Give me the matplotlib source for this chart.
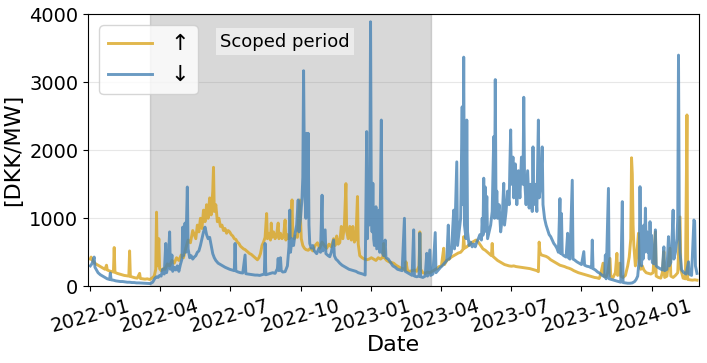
import numpy as np
import pandas as pd
import matplotlib
matplotlib.use('Agg')
import matplotlib.pyplot as plt
import matplotlib.dates as mdates

start = pd.Timestamp('2022-01-01')

# up-regulation price, (days since 2022-01-01, DKK/MW)
up_days = [0, 1, 3, 5, 7, 10, 13, 16, 19, 21, 22, 25, 28, 30, 31, 32, 35, 38, 41, 44, 47, 50, 51, 52, 55, 58, 61, 64, 65, 68, 71, 74, 77, 80, 83, 85, 86, 87, 89, 90, 92, 95, 97, 100, 103, 106, 109, 112, 115, 118, 121, 124, 127, 130, 133, 135, 137, 139, 141, 143, 145, 147, 149, 151, 153, 155, 157, 159, 160, 161, 163, 165, 167, 169, 171, 173, 175, 177, 179, 181, 183, 185, 187, 189, 191, 193, 195, 197, 199, 201, 203, 205, 207, 209, 211, 213, 215, 217, 219, 221, 223, 225, 227, 229, 230, 232, 234, 235, 236, 238, 240, 242, 244, 245, 247, 249, 251, 253, 254, 256, 258, 260, 262, 263, 265, 267, 269, 272, 274, 276, 278, 280, 283, 286, 289, 292, 295, 298, 301, 304, 307, 310, 313, 316, 318, 320, 322, 324, 326, 328, 330, 332, 333, 335, 337, 339, 341, 343, 345, 347, 348, 350, 353, 356, 359, 362, 365, 368, 371, 374, 377, 380, 381, 382, 385, 388, 391, 394, 397, 400, 403, 406, 409, 410, 412, 415, 418, 421, 424, 427, 428, 429, 432, 435, 438, 441, 444, 447, 450, 453, 456, 459, 460, 463, 466, 469, 472, 475, 478, 481, 484, 485, 486, 489, 492, 495, 498, 501, 504, 507, 510, 513, 516, 519, 521, 522, 523, 526, 529, 532, 535, 538, 541, 544, 547, 550, 553, 556, 559, 562, 565, 568, 571, 574, 577, 580, 582, 583, 584, 586, 589, 592, 595, 598, 601, 604, 607, 610, 613, 616, 619, 622, 625, 628, 631, 634, 637, 640, 643, 646, 649, 652, 655, 658, 661, 663, 666, 667, 670, 672, 675, 676, 679, 682, 684, 685, 688, 689, 692, 695, 698, 700, 702, 703, 704, 705, 706, 708, 710, 712, 713, 715, 717, 719, 722, 725, 728, 731, 734, 735, 738, 741, 743, 745, 746, 749, 753, 754, 757, 760, 763, 766, 767, 770, 773, 775, 776, 779, 782, 785, 788]
up_vals = [400, 430, 380, 350, 330, 310, 290, 270, 250, 310, 240, 225, 215, 210, 570, 205, 190, 180, 170, 160, 155, 150, 520, 145, 135, 125, 120, 190, 115, 110, 105, 110, 100, 120, 150, 250, 1090, 300, 700, 260, 230, 260, 250, 330, 300, 380, 340, 420, 380, 460, 420, 560, 680, 640, 820, 760, 700, 900, 800, 1000, 850, 1120, 950, 1200, 1000, 1300, 1050, 1400, 1750, 1100, 1200, 950, 1000, 880, 900, 820, 850, 780, 820, 800, 760, 740, 700, 690, 650, 630, 590, 570, 550, 540, 520, 500, 480, 470, 450, 430, 410, 390, 420, 480, 600, 650, 720, 1070, 700, 780, 680, 930, 720, 800, 700, 760, 930, 700, 780, 700, 740, 975, 680, 760, 700, 720, 1270, 760, 700, 740, 720, 1270, 700, 600, 560, 540, 530, 560, 520, 600, 640, 560, 650, 600, 560, 620, 580, 700, 600, 740, 620, 640, 880, 700, 900, 1510, 800, 700, 880, 680, 880, 650, 700, 1320, 620, 450, 420, 400, 390, 400, 420, 400, 380, 420, 400, 430, 630, 420, 380, 360, 350, 340, 310, 290, 270, 260, 240, 360, 230, 220, 230, 240, 220, 300, 800, 250, 200, 190, 210, 200, 220, 240, 260, 290, 300, 560, 320, 380, 400, 430, 450, 470, 490, 500, 540, 730, 560, 580, 610, 640, 660, 680, 650, 600, 550, 530, 500, 470, 450, 630, 440, 410, 380, 360, 340, 320, 310, 300, 295, 300, 290, 285, 280, 275, 270, 265, 260, 250, 240, 230, 215, 650, 500, 460, 450, 440, 420, 390, 370, 350, 330, 310, 300, 290, 275, 265, 250, 230, 215, 200, 190, 180, 170, 160, 150, 140, 130, 125, 115, 180, 340, 150, 140, 200, 410, 150, 130, 200, 485, 160, 340, 150, 130, 160, 300, 430, 700, 1890, 1650, 900, 600, 300, 500, 780, 350, 250, 300, 240, 200, 190, 180, 200, 800, 150, 130, 120, 200, 510, 130, 150, 560, 150, 130, 160, 200, 1020, 250, 120, 110, 2520, 100, 95, 90, 95, 90]

# down-regulation price, (days since 2022-01-01, DKK/MW)
down_days = [0, 2, 5, 6, 8, 10, 13, 16, 19, 22, 25, 26, 27, 30, 33, 36, 39, 42, 45, 48, 51, 54, 57, 60, 63, 66, 69, 72, 75, 78, 81, 84, 86, 88, 90, 92, 94, 96, 98, 99, 101, 103, 104, 106, 107, 109, 111, 113, 115, 117, 119, 120, 121, 123, 124, 126, 127, 129, 131, 133, 135, 137, 139, 141, 143, 145, 147, 149, 151, 153, 155, 157, 159, 161, 163, 166, 169, 172, 175, 178, 181, 184, 187, 188, 189, 192, 195, 198, 201, 202, 205, 208, 211, 214, 217, 220, 223, 226, 227, 228, 231, 234, 237, 240, 243, 244, 245, 247, 248, 250, 253, 256, 258, 259, 260, 262, 264, 266, 268, 270, 271, 273, 275, 276, 277, 278, 279, 280, 281, 282, 283, 284, 285, 287, 289, 291, 294, 297, 299, 301, 302, 305, 306, 309, 311, 313, 316, 317, 319, 321, 324, 327, 330, 333, 336, 339, 342, 345, 348, 351, 354, 357, 359, 360, 361, 362, 363, 364, 365, 366, 367, 368, 369, 371, 372, 375, 376, 378, 379, 381, 383, 384, 387, 390, 393, 396, 399, 402, 405, 408, 409, 412, 415, 418, 420, 421, 424, 427, 428, 429, 432, 435, 437, 438, 441, 442, 445, 448, 449, 452, 455, 457, 460, 463, 465, 466, 469, 472, 473, 476, 477, 479, 481, 483, 484, 485, 486, 488, 489, 490, 492, 494, 496, 498, 500, 502, 504, 506, 508, 509, 510, 511, 512, 513, 514, 515, 516, 518, 520, 522, 524, 525, 526, 527, 528, 529, 531, 533, 535, 537, 538, 540, 542, 544, 545, 546, 547, 549, 550, 552, 554, 556, 558, 560, 562, 563, 564, 566, 568, 570, 572, 574, 575, 576, 578, 580, 582, 583, 585, 587, 588, 590, 592, 594, 596, 598, 600, 602, 604, 606, 608, 610, 611, 612, 613, 615, 618, 620, 621, 623, 626, 627, 629, 632, 635, 638, 641, 642, 645, 648, 651, 652, 653, 656, 659, 662, 665, 668, 669, 670, 673, 674, 677, 680, 683, 686, 689, 691, 692, 695, 698, 701, 704, 707, 709, 711, 713, 714, 715, 716, 717, 718, 719, 720, 721, 722, 723, 724, 725, 726, 727, 728, 729, 730, 732, 734, 735, 737, 740, 743, 745, 746, 749, 751, 752, 754, 756, 757, 758, 760, 762, 763, 764, 765, 766, 768, 771, 774, 777, 778, 781, 783, 784, 785, 786, 788]
down_vals = [300, 330, 430, 280, 240, 200, 170, 150, 130, 110, 100, 195, 95, 90, 80, 75, 70, 70, 65, 60, 60, 55, 55, 50, 50, 48, 45, 45, 42, 40, 60, 120, 140, 130, 160, 150, 250, 180, 630, 200, 300, 800, 250, 460, 220, 280, 240, 300, 220, 320, 400, 870, 450, 930, 500, 1460, 550, 420, 450, 400, 430, 450, 500, 520, 600, 700, 800, 870, 760, 700, 720, 600, 480, 420, 380, 340, 320, 300, 280, 265, 250, 240, 230, 630, 225, 210, 200, 195, 460, 185, 180, 175, 170, 165, 165, 160, 170, 180, 630, 170, 180, 190, 200, 190, 260, 410, 230, 420, 230, 210, 215, 300, 580, 1120, 500, 700, 600, 780, 900, 1270, 800, 1000, 1300, 1600, 3170, 1800, 1270, 1000, 2250, 1200, 2250, 900, 630, 560, 600, 520, 480, 560, 500, 1340, 520, 830, 480, 450, 435, 500, 680, 450, 400, 380, 340, 310, 290, 270, 250, 240, 230, 220, 200, 190, 180, 166, 2275, 700, 1515, 900, 1300, 3890, 1200, 800, 1515, 700, 600, 1170, 550, 1120, 500, 2445, 500, 450, 680, 420, 400, 350, 300, 280, 250, 240, 230, 1000, 220, 200, 180, 160, 830, 150, 140, 150, 780, 140, 130, 150, 485, 150, 534, 160, 180, 790, 200, 240, 280, 300, 340, 380, 900, 400, 500, 1120, 550, 1830, 600, 800, 1000, 2640, 1200, 3370, 900, 700, 2445, 800, 600, 650, 580, 620, 580, 650, 700, 760, 680, 1000, 750, 1590, 800, 1460, 900, 1320, 700, 800, 900, 1100, 2200, 1000, 3040, 1100, 1400, 1000, 1200, 800, 1000, 1515, 900, 1100, 1400, 1200, 1800, 2300, 1500, 1900, 1300, 1800, 1200, 1700, 1300, 1900, 1500, 2780, 1600, 1200, 1700, 1150, 1500, 1100, 2050, 1200, 1500, 1100, 2445, 1300, 1500, 2050, 1200, 1000, 900, 830, 760, 730, 680, 630, 600, 560, 500, 1290, 480, 1070, 470, 450, 430, 780, 420, 400, 1560, 400, 387, 360, 340, 320, 510, 310, 295, 288, 270, 680, 260, 240, 210, 190, 160, 140, 460, 110, 1440, 110, 100, 90, 80, 70, 60, 1245, 55, 50, 45, 45, 50, 70, 100, 150, 400, 1465, 600, 300, 700, 400, 900, 500, 1150, 600, 800, 500, 700, 400, 950, 500, 750, 350, 330, 830, 300, 280, 260, 240, 580, 230, 250, 730, 300, 350, 800, 1120, 400, 500, 700, 1000, 3400, 1073, 500, 240, 200, 180, 360, 180, 160, 700, 975, 950, 300, 190]

scope_start = '2022-03-20'
scope_end = '2023-03-20'
scope_label_at = '2022-09-11'

up_dates = start + pd.to_timedelta(up_days, unit='D')
down_dates = start + pd.to_timedelta(down_days, unit='D')

fig, ax = plt.subplots(figsize=(7.07, 3.63), dpi=100)
fig.subplots_adjust(left=0.1245, right=0.988, top=0.9606, bottom=0.2113)

ax.axvspan(pd.Timestamp(scope_start), pd.Timestamp(scope_end), color='gray', alpha=0.3)
ax.plot(up_dates, up_vals, color='goldenrod', alpha=0.8, lw=2.1, label='↑')
ax.plot(down_dates, down_vals, color='steelblue', alpha=0.8, lw=2.1, label='↓')

ax.text(pd.Timestamp(scope_label_at), 3600, 'Scoped period', ha='center', va='center', fontsize=13,
        bbox=dict(facecolor='white', alpha=0.5, edgecolor='none', pad=3))

ax.set_xlim(pd.Timestamp('2021-12-29'), pd.Timestamp('2024-03-01'))
ax.set_ylim(0, 4000)
ax.set_yticks([0, 1000, 2000, 3000, 4000])
ax.xaxis.set_major_locator(mdates.MonthLocator(bymonth=[1, 4, 7, 10]))
ax.xaxis.set_major_formatter(mdates.DateFormatter('%Y-%m'))
ax.grid(axis='y', alpha=0.3)
ax.set_axisbelow(True)
ax.tick_params(labelsize=14)
plt.setp(ax.get_xticklabels(), rotation=15)
ax.set_xlabel('Date', fontsize=16, labelpad=0)
ax.set_ylabel('[DKK/MW]', fontsize=16)
ax.legend(loc='upper left', fontsize=16)

fig.savefig('out.png', dpi=100)
